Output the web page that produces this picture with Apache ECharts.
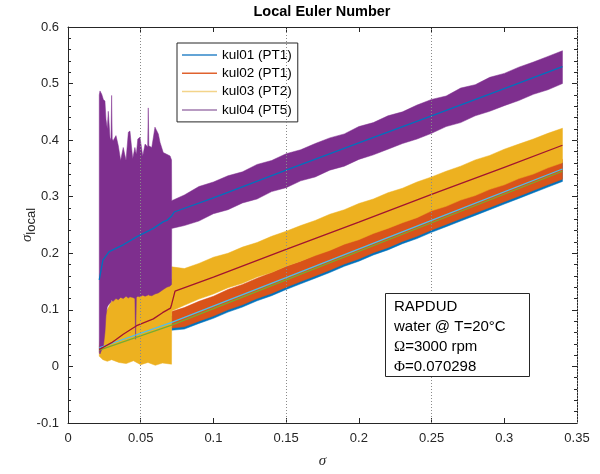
<!DOCTYPE html>
<html>
<head>
<meta charset="utf-8">
<script src="https://cdn.jsdelivr.net/npm/echarts@6/dist/echarts.min.js"></script>
<style>
html, body { margin: 0; padding: 0; background: #fff; }
#chart { width: 600px; height: 474px; }
</style>
</head>
<body>
<div id="chart"></div>
<script>
// envelope sample positions after the jump at sigma ~ 0.071
var xBand = [0.0713, 0.08, 0.09, 0.10, 0.11, 0.12, 0.13, 0.14, 0.15, 0.16, 0.17, 0.18, 0.19, 0.20,
  0.21, 0.22, 0.23, 0.24, 0.25, 0.26, 0.27, 0.28, 0.29, 0.30, 0.31, 0.32, 0.33, 0.34];

// kul01 (PT1) band, mostly hidden under kul02
var kul01Lo = [0.064, 0.066, 0.076, 0.085, 0.096, 0.105, 0.116, 0.125, 0.136, 0.146, 0.156, 0.166, 0.177, 0.186,
  0.197, 0.206, 0.217, 0.226, 0.237, 0.247, 0.257, 0.267, 0.277, 0.287, 0.297, 0.307, 0.317, 0.327];
var kul01Hi = [0.089, 0.098, 0.108, 0.118, 0.128, 0.138, 0.148, 0.158, 0.169, 0.179, 0.189, 0.199, 0.209, 0.219,
  0.229, 0.239, 0.249, 0.259, 0.269, 0.280, 0.290, 0.300, 0.310, 0.320, 0.330, 0.340, 0.350, 0.361];

// kul02 (PT1) band
var kul02Lo = [0.068, 0.070, 0.080, 0.089, 0.100, 0.109, 0.120, 0.129, 0.140, 0.150, 0.160, 0.170, 0.181, 0.190,
  0.201, 0.210, 0.221, 0.230, 0.241, 0.251, 0.261, 0.271, 0.281, 0.291, 0.301, 0.311, 0.321, 0.331];
var kul02Hi = [0.097, 0.104, 0.115, 0.124, 0.136, 0.145, 0.156, 0.166, 0.177, 0.186, 0.197, 0.206, 0.217, 0.226,
  0.237, 0.246, 0.257, 0.266, 0.277, 0.287, 0.297, 0.307, 0.318, 0.327, 0.338, 0.347, 0.358, 0.366];

// kul03 (PT2) band, starts at 0.0215
var kul03X = [0.0215, 0.024, 0.027, 0.030, 0.035, 0.040, 0.045, 0.050, 0.055, 0.060, 0.065, 0.0712].concat(xBand);
var kul03Lo = [0.018, 0.012, 0.009, 0.012, 0.007, 0.005, 0.010, 0.003, 0.007, 0.002, 0.006, 0.004,
  0.098, 0.108, 0.119, 0.128, 0.139, 0.147, 0.158, 0.166, 0.177, 0.186, 0.196, 0.205, 0.216, 0.224,
  0.235, 0.244, 0.254, 0.263, 0.275, 0.283, 0.294, 0.302, 0.313, 0.321, 0.332, 0.340, 0.351, 0.360];
var kul03Hi = [0.035, 0.090, 0.100, 0.115, 0.125, 0.128, 0.130, 0.127, 0.132, 0.135, 0.145, 0.155,
  0.176, 0.173, 0.182, 0.193, 0.200, 0.211, 0.219, 0.230, 0.239, 0.249, 0.258, 0.269, 0.277, 0.288,
  0.296, 0.307, 0.315, 0.326, 0.335, 0.345, 0.354, 0.365, 0.373, 0.384, 0.393, 0.402, 0.412, 0.421];

// kul04 (PT5) band, very noisy before 0.071
var kul04X = [0.0215, 0.0220, 0.0232, 0.0243, 0.0254, 0.0261, 0.0270, 0.0277, 0.0290, 0.0296, 0.0300, 0.0304,
  0.0310, 0.0330, 0.0346, 0.0362, 0.0380, 0.0399, 0.0415, 0.0426, 0.0445, 0.0460, 0.0465, 0.0470, 0.0480,
  0.0495, 0.0514, 0.0530, 0.0548, 0.0552, 0.0556, 0.0576, 0.0598, 0.0621, 0.0633, 0.0655, 0.0679, 0.0702,
  0.0712].concat(xBand);
var kul04Lo = [0.025, 0.022, 0.030, 0.035, 0.060, 0.090, 0.105, 0.108, 0.112, 0.114, 0.118, 0.116,
  0.115, 0.120, 0.118, 0.122, 0.120, 0.124, 0.121, 0.123, 0.122, 0.120, 0.048, 0.122, 0.124,
  0.123, 0.126, 0.124, 0.126, 0.127, 0.126, 0.125, 0.128, 0.130, 0.132, 0.136, 0.140, 0.142,
  0.145,
  0.244, 0.249, 0.257, 0.270, 0.277, 0.289, 0.296, 0.309, 0.316, 0.328, 0.335, 0.347, 0.354, 0.366,
  0.374, 0.384, 0.394, 0.402, 0.412, 0.424, 0.431, 0.443, 0.451, 0.461, 0.470, 0.481, 0.489, 0.500];
var kul04Hi = [0.480, 0.487, 0.481, 0.472, 0.469, 0.437, 0.420, 0.451, 0.400, 0.405, 0.479, 0.402,
  0.399, 0.408, 0.390, 0.364, 0.387, 0.364, 0.414, 0.416, 0.367, 0.387, 0.380, 0.375, 0.402,
  0.405, 0.372, 0.393, 0.388, 0.457, 0.390, 0.387, 0.423, 0.411, 0.396, 0.378, 0.375, 0.372,
  0.365,
  0.293, 0.303, 0.318, 0.326, 0.337, 0.344, 0.357, 0.364, 0.376, 0.383, 0.394, 0.404, 0.411, 0.424,
  0.431, 0.443, 0.450, 0.462, 0.472, 0.478, 0.492, 0.498, 0.511, 0.518, 0.529, 0.538, 0.548, 0.558];

// mean lines
var mean01X = [0.0215, 0.0713, 0.15, 0.25, 0.34];
var mean01Y = [0.029, 0.073, 0.153, 0.254, 0.345];
var mean02X = [0.0215, 0.0713, 0.15, 0.25, 0.34];
var mean02Y = [0.033, 0.078, 0.157, 0.258, 0.349];
var mean03X = [0.0215, 0.030, 0.038, 0.0472, 0.0587, 0.065, 0.0705, 0.0713, 0.0736, 0.10, 0.15, 0.20, 0.25, 0.30, 0.34];
var mean03Y = [0.030, 0.042, 0.057, 0.072, 0.084, 0.095, 0.103, 0.110, 0.133, 0.158, 0.207, 0.255, 0.304, 0.352, 0.391];
var mean04X = [0.0215, 0.024, 0.0283, 0.038, 0.0472, 0.0587, 0.0656, 0.068, 0.0713, 0.073, 0.10, 0.15, 0.20, 0.25, 0.30, 0.34];
var mean04Y = [0.153, 0.188, 0.203, 0.215, 0.229, 0.244, 0.256, 0.258, 0.266, 0.273, 0.298, 0.347, 0.395, 0.443, 0.491, 0.530];

// dotted vertical guides
var guideX = [0.05, 0.15, 0.25, 0.35];

var names = ['kul01 (PT1)', 'kul02 (PT1)', 'kul03 (PT2)', 'kul04 (PT5)'];

var chart = echarts.init(document.getElementById('chart'));

function pairs(xs, ys) {
  var out = [];
  for (var i = 0; i < xs.length; i++) out.push([xs[i], ys[i]]);
  return out;
}

// filled band between lo and hi, drawn as one polygon through the axes
function band(name, xs, lo, hi, color) {
  var rows = [];
  for (var i = 0; i < xs.length; i++) rows.push([xs[i], lo[i], hi[i]]);
  return {
    name: name, type: 'custom', data: rows, z: 2,
    encode: { x: 0, y: [1, 2] },
    itemStyle: { color: color },
    renderItem: function (params, api) {
      if (params.dataIndex !== 0) return null;
      var pts = [];
      for (var i = 0; i < rows.length; i++) pts.push(api.coord([rows[i][0], rows[i][2]]));
      for (var j = rows.length - 1; j >= 0; j--) pts.push(api.coord([rows[j][0], rows[j][1]]));
      return {
        type: 'polygon', shape: { points: pts },
        style: { fill: color, stroke: color, lineWidth: 0.5 }
      };
    }
  };
}

function meanLine(name, xs, ys, color) {
  return { name: name, type: 'line', data: pairs(xs, ys), symbol: 'none', silent: true,
    lineStyle: { width: 1.3, color: color }, z: 3 };
}

var axisColor = '#262626';
var font = 'Liberation Sans, Arial, sans-serif';
var serif = 'Liberation Serif, Times New Roman, serif';
var lineIcon = 'path://M0,0H35V1.5H0Z';

var series = [{
  type: 'line', name: 'guides', data: [], silent: true, z: 1,
  markLine: {
    symbol: 'none', silent: true, label: { show: false },
    lineStyle: { color: '#8a8a8a', type: [1, 2], width: 1 },
    data: guideX.map(function (v) { return { xAxis: v }; })
  }
},
  band(names[0], xBand, kul01Lo, kul01Hi, '#0072BD'),
  band(names[1], xBand, kul02Lo, kul02Hi, '#D95319'),
  band(names[2], kul03X, kul03Lo, kul03Hi, '#EDB120'),
  band(names[3], kul04X, kul04Lo, kul04Hi, '#7E2F8E'),
  meanLine('mean01', mean01X, mean01Y, '#77AC30'),
  meanLine('mean02', mean02X, mean02Y, '#4DBEEE'),
  meanLine('mean03', mean03X, mean03Y, '#A2142F'),
  meanLine('mean04', mean04X, mean04Y, '#0072BD')
];

var option = {
  animation: false,
  backgroundColor: '#fff',
  title: [{
    text: 'Local Euler Number',
    left: 322, top: 4, textAlign: 'center', padding: 0,
    textStyle: { fontSize: 14.5, fontWeight: 'bold', color: '#000', fontFamily: font }
  }, {
    text: 'RAPDUD\nwater @ T=20°C\n{g|Ω}=3000 rpm\n{g|Φ}=0.070298',
    left: 385, top: 293,
    padding: [4, 24, 0, 9],
    borderColor: axisColor, borderWidth: 1, backgroundColor: '#fff',
    textStyle: {
      fontSize: 15, fontWeight: 'normal', color: '#000', fontFamily: font, lineHeight: 20,
      rich: { g: { fontSize: 15, fontFamily: serif, lineHeight: 20 } }
    }
  }],
  legend: {
    data: [
      { name: names[0], icon: lineIcon, itemStyle: { color: '#2F86C9' } },
      { name: names[1], icon: lineIcon, itemStyle: { color: '#E0622E' } },
      { name: names[2], icon: lineIcon, itemStyle: { color: '#F3D48A' } },
      { name: names[3], icon: lineIcon, itemStyle: { color: '#A07AAE' } }
    ],
    orient: 'vertical', left: 177, top: 43,
    padding: [3, 6, 3, 5], itemGap: 0.3,
    itemWidth: 35, itemHeight: 14, symbolKeepAspect: true,
    borderColor: axisColor, borderWidth: 1, backgroundColor: '#fff',
    selectedMode: false,
    textStyle: { fontSize: 13.5, color: '#000', fontFamily: font, lineHeight: 18 }
  },
  grid: { left: 68, right: 23, top: 27, bottom: 48 },
  xAxis: [{
    type: 'value', min: 0, max: 0.35, interval: 0.05, position: 'bottom',
    axisLine: { show: true, onZero: false, lineStyle: { color: axisColor } },
    axisTick: { show: true, inside: true, length: 5, lineStyle: { color: axisColor } },
    axisLabel: { color: axisColor, fontSize: 13, fontFamily: font, margin: 9 },
    splitLine: { show: false },
    name: 'σ', nameLocation: 'middle', nameGap: 31, nameMoveOverlap: false,
    nameTextStyle: { fontSize: 15, fontStyle: 'italic', color: axisColor, fontFamily: serif }
  }, {
    type: 'value', min: 0, max: 0.35, interval: 0.05, position: 'top',
    axisLine: { show: true, onZero: false, lineStyle: { color: axisColor } },
    axisTick: { show: true, inside: true, length: 5, lineStyle: { color: axisColor } },
    axisLabel: { show: false },
    splitLine: { show: false }
  }],
  yAxis: [{
    type: 'value', min: -0.1, max: 0.6, interval: 0.1, position: 'left',
    axisLine: { show: true, onZero: false, lineStyle: { color: axisColor } },
    axisTick: { show: true, inside: true, length: 5, lineStyle: { color: axisColor } },
    minorTick: { show: true, splitNumber: 5, length: 3, lineStyle: { color: axisColor } },
    axisLabel: { color: axisColor, fontSize: 13, fontFamily: font, margin: 9 },
    splitLine: { show: false },
    name: '{s|σ}{l|local}', nameLocation: 'middle', nameGap: 30, nameMoveOverlap: false,
    nameTextStyle: {
      color: axisColor,
      rich: {
        s: { fontSize: 15, fontStyle: 'italic', fontFamily: serif, color: axisColor },
        l: { fontSize: 13, fontFamily: font, color: axisColor, padding: [8, 0, 0, 0] }
      }
    }
  }, {
    type: 'value', min: -0.1, max: 0.6, interval: 0.1, position: 'right',
    axisLine: { show: true, onZero: false, lineStyle: { color: axisColor } },
    axisTick: { show: true, inside: true, length: 5, lineStyle: { color: axisColor } },
    minorTick: { show: true, splitNumber: 5, length: 3, lineStyle: { color: axisColor } },
    axisLabel: { show: false },
    splitLine: { show: false }
  }],
  series: series
};

chart.setOption(option);
</script>
</body>
</html>
